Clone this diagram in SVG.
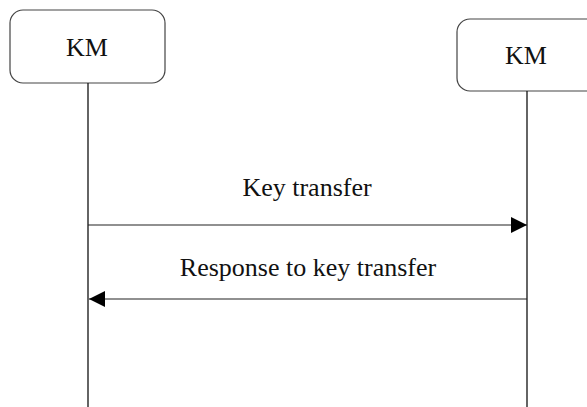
<svg xmlns="http://www.w3.org/2000/svg" width="587" height="407" viewBox="0 0 587 407">
  <style>
    .box { fill: #ffffff; stroke: #444444; stroke-width: 1.2; }
    .life { stroke: #111111; stroke-width: 1.3; fill: none; }
    .msg { stroke: #222222; stroke-width: 1.2; fill: none; }
    .label { font-family: "Liberation Serif", "Times New Roman", serif; font-size: 26px; fill: #111111; text-anchor: middle; }
  </style>
  <defs>
    <marker id="arrow" viewBox="0 0 16 16" refX="16" refY="8" markerWidth="16" markerHeight="16" markerUnits="userSpaceOnUse" orient="auto">
      <path d="M0,0 L16,8 L0,16 Z" fill="#000000"/>
    </marker>
  </defs>
  <rect width="587" height="407" fill="#ffffff"/>

  <g id="km-left">
    <rect class="box" x="10" y="10" width="155" height="73" rx="13" ry="13"/>
    <text class="label" x="87" y="56">KM</text>
  </g>

  <g id="km-right">
    <rect class="box" x="457" y="19" width="150" height="72" rx="13" ry="13"/>
    <text class="label" x="526" y="64">KM</text>
  </g>

  <g id="connectors">
    <line class="life" x1="88" y1="83" x2="88" y2="407"/>
    <line class="life" x1="527" y1="91" x2="527" y2="407"/>
    <line class="msg" x1="88" y1="225" x2="527" y2="225" marker-end="url(#arrow)"/>
    <text class="label" x="307" y="196">Key transfer</text>
    <line class="msg" x1="527" y1="299" x2="89" y2="299" marker-end="url(#arrow)"/>
    <text class="label" x="308" y="276">Response to key transfer</text>
  </g>
</svg>
